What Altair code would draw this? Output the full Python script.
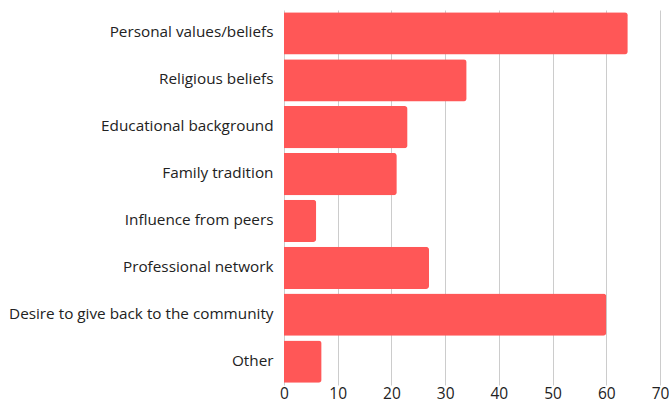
import altair as alt
import pandas as pd

categories = [
    "Personal values/beliefs",
    "Religious beliefs",
    "Educational background",
    "Family tradition",
    "Influence from peers",
    "Professional network",
    "Desire to give back to the community",
    "Other",
]
values = [64, 34, 23, 21, 6, 27, 60, 7]
x_ticks = [0, 10, 20, 30, 40, 50, 60, 70]

df = pd.DataFrame({"category": categories, "value": values})

chart = (
    alt.Chart(df)
    .mark_bar(color="#FF5757", cornerRadiusEnd=3)
    .encode(
        y=alt.Y(
            "category:N",
            sort=categories,
            title=None,
            scale=alt.Scale(paddingInner=0.1, paddingOuter=0.05),
            axis=alt.Axis(
                domain=False,
                ticks=False,
                grid=False,
                labelFont="Open Sans",
                labelFontSize=15.3,
                labelColor="#222222",
                labelPadding=11,
                labelLimit=400,
                labelOffset=-1,
            ),
        ),
        x=alt.X(
            "value:Q",
            title=None,
            scale=alt.Scale(domain=[0, 70], nice=False),
            axis=alt.Axis(
                values=x_ticks,
                domain=False,
                ticks=False,
                grid=True,
                gridColor="#cccccc",
                gridWidth=1,
                labelFont="Open Sans",
                labelFontSize=15.5,
                labelColor="#222222",
                labelPadding=1,
                labelFlush=False,
            ),
        ),
    )
    .properties(
        width=376,
        height=375,
        padding={"left": 284, "top": 10, "right": 9, "bottom": 19},
        autosize=alt.AutoSizeParams(type="none"),
    )
    .configure_view(stroke=None)
)

chart.save("out.html", embed_options={"renderer": "svg", "actions": False})
